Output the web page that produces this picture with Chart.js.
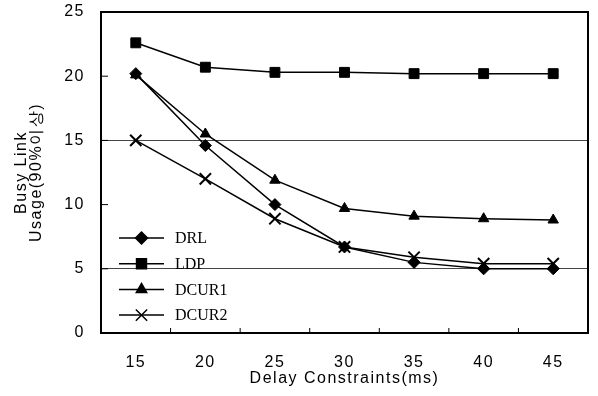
<!DOCTYPE html>
<html>
<head>
<meta charset="utf-8">
<script src="https://cdn.jsdelivr.net/npm/chart.js@4/dist/chart.umd.min.js"></script>
<style>
  html, body { margin: 0; padding: 0; background: #fff; }
  #wrap { width: 598px; height: 396px; position: relative; }
  #status { position: absolute; left: 0; top: 0; width: 1px; height: 1px; overflow: hidden; color: transparent; font-size: 1px; }
</style>
</head>
<body>
<div id="wrap"><canvas id="c" width="598" height="396"></canvas><div id="status"></div></div>
<script>
const delays = ["15", "20", "25", "30", "35", "40", "45"];
const drl   = [20.2, 14.6, 10.0, 6.7, 5.5, 5.0, 5.0];
const ldp   = [22.6, 20.7, 20.3, 20.3, 20.2, 20.2, 20.2];
const dcur1 = [20.1, 15.5, 11.9, 9.7, 9.1, 8.9, 8.8];
const dcur2 = [15.0, 12.0, 8.9, 6.7, 5.9, 5.4, 5.4];
const gridValues = [5, 15];

const serif = "'Liberation Serif', 'DejaVu Serif', serif";
const sans = "'Liberation Sans', Arial, sans-serif";

function series(label, data, style, radius) {
  return {
    label, data,
    borderColor: "#000", backgroundColor: "#000",
    borderWidth: 1.5,
    pointStyle: style, pointRadius: radius,
    pointBorderWidth: style === "crossRot" ? 2 : 1,
    tension: 0
  };
}

// wide letter spacing like the scanned original
const spacing = {
  id: "spacing",
  beforeInit(chart) { chart.ctx.letterSpacing = "1.5px"; },
  beforeDraw(chart) { chart.ctx.letterSpacing = "1.5px"; }
};

// legend inside the plot, inward tick marks and the frame
const innerLegend = {
  id: "innerLegend",
  afterDraw(chart) {
    const ctx = chart.ctx;
    const area = chart.chartArea;
    const status = document.getElementById("status");
    status.textContent = [area.left, area.top, area.right, area.bottom].join(",");
    try {
      const x0 = area.left + 18, x1 = area.left + 63;
      ctx.save();
      ctx.letterSpacing = "0px";
      chart.data.datasets.forEach((ds, i) => {
        const y = 238 + i * 25.7;
        ctx.strokeStyle = "#000";
        ctx.lineWidth = 1.5;
        ctx.beginPath();
        ctx.moveTo(x0, y);
        ctx.lineTo(x1, y);
        ctx.stroke();
        Chart.helpers.drawPoint(ctx, {
          pointStyle: ds.pointStyle, radius: ds.pointRadius,
          borderWidth: ds.pointBorderWidth
        }, (x0 + x1) / 2, y);
        ctx.fillStyle = "#000";
        ctx.font = "16px " + serif;
        ctx.textBaseline = "middle";
        ctx.fillText(ds.label, area.left + 74, y + 1);
      });
      ctx.restore();
    } catch (e) { status.textContent += " L:" + e.message; }
    try {
      ctx.save();
      ctx.strokeStyle = "#000";
      ctx.lineWidth = 1;
      const xs = chart.scales.x, ys = chart.scales.y;
      ctx.beginPath();
      for (let i = 1; i < delays.length; i++) {
        const px = (xs.getPixelForValue(i - 1) + xs.getPixelForValue(i)) / 2;
        ctx.moveTo(px, area.bottom);
        ctx.lineTo(px, area.bottom - 5);
      }
      ys.ticks.forEach(t => {
        const py = ys.getPixelForValue(t.value);
        ctx.moveTo(area.left, py);
        ctx.lineTo(area.left + 7, py);
      });
      ctx.stroke();
      ctx.restore();
    } catch (e) { status.textContent += " T:" + e.message; }
    ctx.save();
    ctx.strokeStyle = "#000";
    ctx.lineWidth = 2;
    ctx.strokeRect(area.left, area.top, area.right - area.left, area.bottom - area.top);
    ctx.restore();
  }
};

new Chart(document.getElementById("c"), {
  type: "line",
  data: {
    labels: delays,
    datasets: [
      series("DRL", drl, "rectRot", 6),
      series("LDP", ldp, "rect", 7),
      series("DCUR1", dcur1, "triangle", 6),
      series("DCUR2", dcur2, "crossRot", 8)
    ]
  },
  options: {
    responsive: false,
    animation: false,
    layout: { padding: { top: 0, right: 0, left: 0, bottom: 0 } },
    plugins: { legend: { display: false }, tooltip: { enabled: false } },
    scales: {
      x: {
        offset: true,
        grid: { display: false },
        border: { display: false },
        ticks: { color: "#000", font: { family: sans, size: 16 }, padding: 12 },
        title: {
          display: true, text: "Delay Constraints(ms)", color: "#000",
          font: { family: sans, size: 16 }, padding: { top: 0, bottom: 8 }
        },
        afterFit(scale) { scale.height = 63; }
      },
      y: {
        min: 0, max: 25,
        ticks: { stepSize: 5, color: "#000", font: { family: sans, size: 16, lineHeight: 1 }, padding: 4 },
        grid: {
          drawTicks: true,
          tickLength: 12,
          tickColor: "rgba(0,0,0,0)",
          color: ctx => gridValues.includes(ctx.tick && ctx.tick.value) ? "#444" : "rgba(0,0,0,0)",
          lineWidth: 1
        },
        border: { display: false },
        title: {
          display: true, text: ["Busy Link", "Usage(90%이상)"], color: "#000",
          font: { family: sans, size: 16, lineHeight: 0.95 }, padding: { top: 14, bottom: 0 }
        },
        afterFit(scale) { scale.width = 101; }
      }
    }
  },
  plugins: [spacing, innerLegend]
});
</script>
</body>
</html>
